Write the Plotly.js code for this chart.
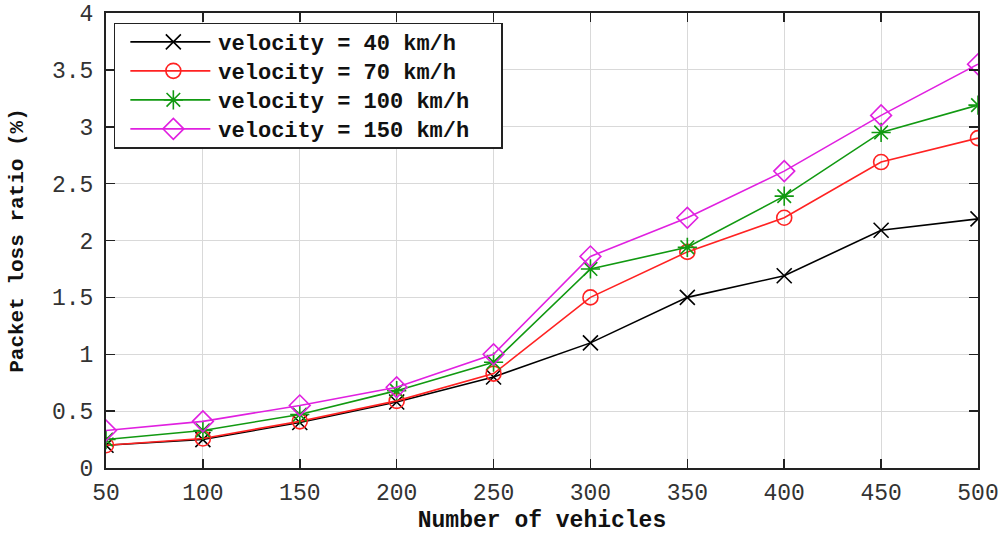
<!DOCTYPE html>
<html><head><meta charset="utf-8">
<script src="https://cdn.plot.ly/plotly-3.0.1.min.js"></script>
<style>html,body{margin:0;padding:0;background:#fff}#plot{width:1003px;height:537px}</style>
</head><body><div id="plot"></div>
<script>
const vehicles = [50,100,150,200,250,300,350,400,450,500];
const v40  = [0.20,0.25,0.40,0.58,0.80,1.10,1.50,1.69,2.09,2.19];
const v70  = [0.20,0.26,0.41,0.59,0.83,1.50,1.90,2.20,2.69,2.90];
const v100 = [0.25,0.33,0.47,0.68,0.93,1.75,1.94,2.39,2.95,3.19];
const v150 = [0.33,0.41,0.55,0.71,1.00,1.86,2.20,2.61,3.10,3.55];
const names = ['velocity = 40 km/h','velocity = 70 km/h','velocity = 100 km/h','velocity = 150 km/h'];
const series = [v40,v70,v100,v150];
const colors = ['#000000','#ff2222','#119911','#e020e0'];
const symbols = ['x-thin-open','circle-open','asterisk-open','diamond-open'];
const sizes = [15,15,16,16];
const font = 'Liberation Mono, Courier New, monospace';
const traces = series.map((s,i)=>({
  x: vehicles, y: s, name: names[i], type:'scatter', mode:'lines+markers',
  line:{color:colors[i], width:1.6},
  marker:{symbol:symbols[i], size:sizes[i], color:colors[i], line:{color:colors[i], width:1.6}}
}));
const layout = {
  width:1003, height:537,
  margin:{l:106, r:25, t:13, b:69},
  paper_bgcolor:'#fff', plot_bgcolor:'#fff',
  font:{family:font, color:'#111', size:18},
  showlegend:true,
  legend:{x:0.009, y:0.979, xanchor:'left', yanchor:'top', bgcolor:'#fff',
    bordercolor:'#222', borderwidth:1.5, font:{family:font, size:22, weight:'bold', color:'#111'},
    tracegroupgap:0, itemwidth:93},
  xaxis:{range:[50,500], tickvals:vehicles, ticks:'inside', ticklen:9, tickcolor:'#222', tickwidth:1.5,
    showline:true, linecolor:'#222', linewidth:2, mirror:'ticks', showgrid:true, gridcolor:'#d9d9d9', gridwidth:1,
    zeroline:false, tickfont:{family:font, size:23, color:'#333'}, ticklabelstandoff:2,
    title:{text:'Number of vehicles', font:{family:font, size:23, weight:'bold', color:'#111'}, standoff:5}},
  yaxis:{range:[0,4], dtick:0.5, tick0:0, ticks:'inside', ticklen:9, tickcolor:'#222', tickwidth:1.5,
    showline:true, linecolor:'#222', linewidth:2, mirror:'ticks', showgrid:true, gridcolor:'#d9d9d9', gridwidth:1,
    zeroline:false, tickfont:{family:font, size:23, color:'#333'}, ticklabelstandoff:6,
    title:{text:'Packet loss ratio (%)', font:{family:font, size:21, weight:'bold', color:'#111'}, standoff:23}}
};
Plotly.newPlot('plot', traces, layout, {displayModeBar:false, staticPlot:true}).then(gd=>{
  // legend styling to match the reference: long sample lines, marker centred on them, tighter rows, wider box
  gd.querySelectorAll('.legend .legendlines path').forEach(p=>p.setAttribute('d','M15,0h80'));
  gd.querySelectorAll('.legend .legendpoints path').forEach(p=>p.setAttribute('transform','translate(58,0)'));
  const items = Array.from(gd.querySelectorAll('.legend g.traces'));
  const pos = items.map(g=>{
    const m = /translate\(([-\d.]+)[ ,]+([-\d.]+)\)/.exec(g.getAttribute('transform')||'');
    return m ? [parseFloat(m[1]), parseFloat(m[2])] : [0,0];
  });
  const gap = 29, lift = 3;
  let shrink = 0;
  if (pos.length > 1) {
    const orig = pos[1][1]-pos[0][1];
    items.forEach((g,i)=>g.setAttribute('transform','translate('+pos[i][0]+','+(pos[0][1]-lift+i*gap)+')'));
    shrink = (orig-gap)*(items.length-1) + 2*lift;
  }
  const bg = gd.querySelector('.legend rect.bg');
  if (bg) {
    const h = parseFloat(bg.getAttribute('height'));
    bg.setAttribute('height', h - shrink);
    const r = bg.getBoundingClientRect();
    bg.setAttribute('width', 502 - r.left);
  }
});
</script></body></html>
